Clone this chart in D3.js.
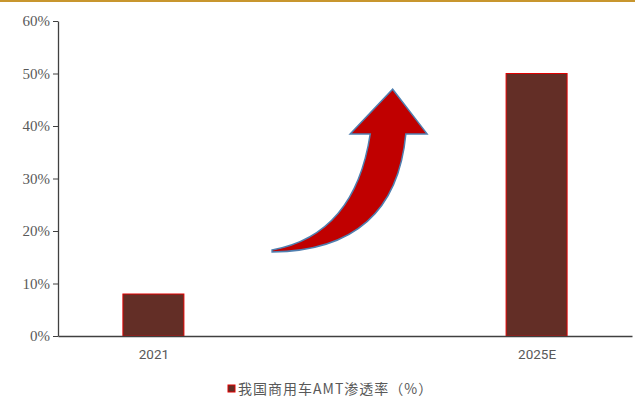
<!DOCTYPE html>
<html>
<head>
<meta charset="utf-8">
<script src="https://cdn.jsdelivr.net/npm/d3@7"></script>
<style>
  body { margin: 0; background: #fff; }
  svg { display: block; }
</style>
</head>
<body>
<svg id="chart"></svg>
<script>
// 数据
var categories = ["2021", "2025E"];
var values = [0.08, 0.50];
var yTicks = [0, 0.1, 0.2, 0.3, 0.4, 0.5, 0.6];
var seriesName = "我国商用车AMT渗透率（%）";

// 箭头轮廓（x: 绘图区比例, y: 数值）
var arrowLeft = [[0.373, 0.164], [0.517, 0.192], [0.544, 0.385]];
var arrowRight = [[0.606, 0.385], [0.587, 0.163], [0.373, 0.160]];
var arrowHead = [[0.509, 0.385], [0.583, 0.470], [0.643, 0.385]];

var W = 635, H = 401;
var margin = {top: 21, right: 3, bottom: 65, left: 58},
    width = W - margin.left - margin.right,
    height = H - margin.top - margin.bottom;

var svg = d3.select("#chart").attr("width", W).attr("height", H);

// 顶部装饰线
svg.append("line")
    .attr("x1", 0).attr("x2", W)
    .attr("y1", 1).attr("y2", 1)
    .attr("stroke", "#c8962e")
    .attr("stroke-width", 2);

var g = svg.append("g")
    .attr("transform", "translate(" + margin.left + "," + margin.top + ")");

var x = d3.scalePoint()
    .domain(categories)
    .range([0, width])
    .padding(0.249);

var y = d3.scaleLinear()
    .domain([0, 0.6])
    .range([height, 0]);

var fx = d3.scaleLinear().domain([0, 1]).range([0, width]);

var barW = 61;

// 柱子
g.selectAll("rect.bar")
    .data(values)
    .enter().append("rect")
    .attr("class", "bar")
    .attr("x", function(d, i) { return x(categories[i]) - barW / 2; })
    .attr("y", function(d) { return y(d); })
    .attr("width", barW)
    .attr("height", function(d) { return height - y(d); })
    .attr("fill", "#632e26")
    .attr("stroke", "#e00000")
    .attr("stroke-width", 1);

// y 轴
var yAxis = g.append("g")
    .call(d3.axisLeft(y).tickValues(yTicks).tickFormat(d3.format(".0%")).tickSize(5).tickSizeOuter(0));
yAxis.select(".domain").attr("stroke", "#404040").attr("stroke-width", 1.3);
yAxis.selectAll(".tick line").attr("stroke", "#404040");
yAxis.selectAll("text")
    .attr("x", -8)
    .attr("fill", "#595959")
    .style("font-family", "'Liberation Serif', 'Times New Roman', serif")
    .style("font-size", "15px");

// x 轴
var xAxis = g.append("g")
    .attr("transform", "translate(0," + height + ")")
    .call(d3.axisBottom(x).tickSize(0).tickSizeOuter(0));
xAxis.select(".domain").attr("stroke", "#404040").attr("stroke-width", 1.5);
xAxis.selectAll("text")
    .attr("dy", "1.5em")
    .attr("fill", "#595959")
    .style("font-family", "Roboto, 'Liberation Sans', Arial, sans-serif")
    .style("font-size", "13.5px");

// 箭头
function pt(p) { return [fx(p[0]), y(p[1])]; }
var L = arrowLeft.map(pt), R = arrowRight.map(pt), A = arrowHead.map(pt);
var d = "M" + L[0] +
    "Q" + L[1] + " " + L[2] +
    "L" + A[0] + "L" + A[1] + "L" + A[2] +
    "L" + R[0] +
    "Q" + R[1] + " " + R[2] + "Z";
g.append("path")
    .attr("d", d)
    .attr("fill", "#c00000")
    .attr("stroke", "#4f7fb0")
    .attr("stroke-width", 1.5)
    .attr("stroke-linejoin", "miter");

// 图例
var legend = svg.append("g").attr("transform", "translate(228,385)");
legend.append("rect")
    .attr("width", 7).attr("height", 7)
    .attr("fill", "#632e26")
    .attr("stroke", "#e00000")
    .attr("stroke-width", 1);
legend.append("text")
    .attr("x", 10).attr("y", 4)
    .attr("dy", "0.35em")
    .attr("fill", "#595959")
    .style("font-family", "'Noto Sans CJK SC', sans-serif")
    .style("font-size", "14px")
    .style("letter-spacing", "1px")
    .text(seriesName);
</script>
</body>
</html>
